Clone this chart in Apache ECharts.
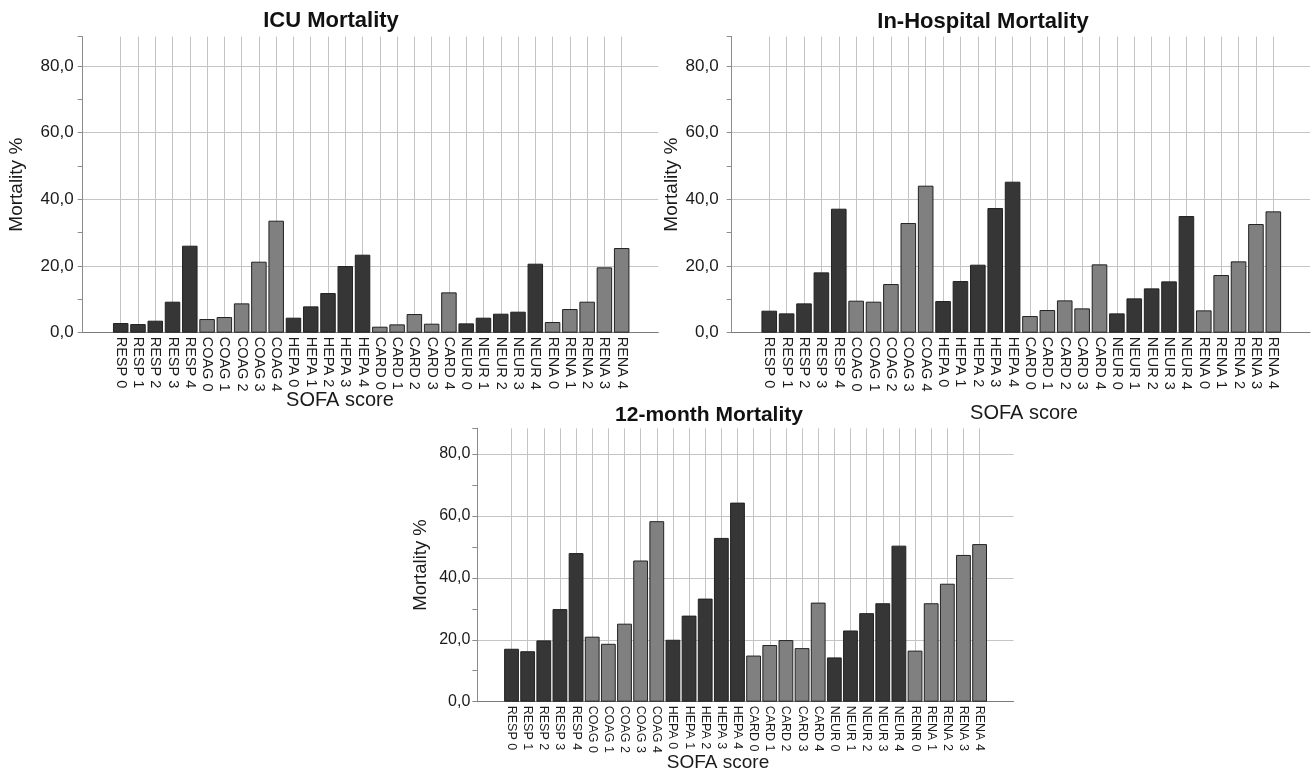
<!DOCTYPE html>
<html>
<head>
<meta charset="utf-8">
<script src="https://cdn.jsdelivr.net/npm/echarts@6/dist/echarts.min.js"></script>
<style>
html,body{margin:0;padding:0;background:#fff;}
#chart{width:1312px;height:773px;}
</style>
</head>
<body>
<div id="chart"></div>
<script>
// ---- data ----
const categories = ['RESP 0','RESP 1','RESP 2','RESP 3','RESP 4',
  'COAG 0','COAG 1','COAG 2','COAG 3','COAG 4',
  'HEPA 0','HEPA 1','HEPA 2','HEPA 3','HEPA 4',
  'CARD 0','CARD 1','CARD 2','CARD 3','CARD 4',
  'NEUR 0','NEUR 1','NEUR 2','NEUR 3','NEUR 4',
  'RENA 0','RENA 1','RENA 2','RENA 3','RENA 4'];
const categories12m = ['RESP 0','RESP 1','RESP 2','RESP 3','RESP 4',
  'COAG 0','COAG 1','COAG 2','COAG 3','COAG 4',
  'HEPA 0','HEPA 1','HEPA 2','HEPA 3','HEPA 4',
  'CARD 0','CARD 1','CARD 2','CARD 3','CARD 4',
  'NEUR 0','NEUR 1','NEUR 2','NEUR 3','NEUR 4',
  'RENR 0','RENA 1','RENA 2','RENA 3','RENA 4'];
const icuMortality = [2.9,2.6,3.6,9.3,26.1, 4.1,4.7,8.8,21.3,33.6, 4.5,7.9,11.9,20.0,23.4,
  1.8,2.5,5.6,2.7,12.1, 2.8,4.5,5.7,6.3,20.7, 3.2,7.1,9.3,19.6,25.4];
const hospitalMortality = [6.6,5.8,8.8,18.1,37.2, 9.6,9.3,14.6,32.9,44.1, 9.5,15.5,20.4,37.4,45.3,
  5.0,6.8,9.7,7.3,20.5, 5.8,10.3,13.3,15.4,35.0, 6.7,17.3,21.4,32.6,36.4];
const month12Mortality = [17.1,16.3,19.8,29.9,48.0, 21.0,18.7,25.2,45.6,58.3, 20.0,27.8,33.3,52.9,64.3,
  14.9,18.3,19.9,17.3,32.0, 14.3,23.0,28.6,31.8,50.4, 16.5,31.8,38.1,47.4,50.9];
const titles = ['ICU Mortality','In-Hospital Mortality','12-month Mortality'];
const xAxisTitle = 'SOFA score';
const yAxisTitle = 'Mortality %';

// ---- styling / layout ----
const FONT = "'Liberation Sans', Arial, sans-serif";
const DARK = '#363636', LIGHT = '#808080';
const panels = [
  {cats: categories, vals: icuMortality, grid:{left:82.7, top:36.7, width:575.6, height:296},
   xmin:-2.2, xmax:31.12, ymax:88.8, barW:15.5, labMargin:9, nameGap:56, tick:17, cat:14.5, nameSize:19,
   title:[331,21,22], sofa:[340,400,20]},
  {cats: categories, vals: hospitalMortality, grid:{left:731.7, top:36.7, width:578.3, height:296},
   xmin:-2.16, xmax:31.11, ymax:88.8, barW:15.6, labMargin:13, nameGap:50, tick:17, cat:14.5, nameSize:19,
   title:[983,22,22], sofa:[1024,413,20]},
  {cats: categories12m, vals: month12Mortality, grid:{left:477.3, top:428.3, width:536.2, height:273.4},
   xmin:-2.12, xmax:31.1, ymax:88.3, barW:14.8, labMargin:7, nameGap:47, tick:16, cat:12.5, nameSize:18.5,
   title:[709,415,21], sofa:[718,763,19]}
];

const grid = [], xAxis = [], yAxis = [], series = [], graphic = [];
panels.forEach((p, k) => {
  grid.push(Object.assign({containLabel:false}, p.grid));
  xAxis.push({
    type:'value', gridIndex:k, min:p.xmin, max:p.xmax,
    axisLine:{show:true, onZero:false, lineStyle:{color:'#7a7a7a', width:1}},
    axisTick:{show:false}, splitLine:{show:false},
    axisLabel:{customValues: p.cats.map((c,i)=>i), formatter: v => (p.cats[v] !== undefined ? p.cats[v] : ''),
      rotate:-90, margin:4, fontSize:p.cat, color:'#1a1a1a', fontFamily:FONT}
  });
  yAxis.push({
    type:'value', gridIndex:k, min:0, max:p.ymax, interval:20,
    name:yAxisTitle, nameLocation:'middle', nameRotate:90, nameGap:p.nameGap,
    nameTextStyle:{fontSize:p.nameSize, color:'#1a1a1a', fontFamily:FONT},
    axisLine:{show:true, onZero:false, lineStyle:{color:'#8c8c8c', width:1}},
    axisTick:{show:true, length:5, lineStyle:{color:'#8c8c8c'}},
    minorTick:{show:true, splitNumber:2, length:5, lineStyle:{color:'#8c8c8c'}},
    splitLine:{show:true, showMinLine:false, showMaxLine:false, lineStyle:{color:'#c4c4c4', width:1}},
    axisLabel:{margin:p.labMargin, fontSize:p.tick, color:'#1a1a1a', fontFamily:FONT, showMaxLabel:false,
      formatter: v => (Math.abs(v % 20) < 1e-6 ? v.toFixed(1).replace('.', ',') : '')}
  });
  series.push({
    type:'bar', xAxisIndex:k, yAxisIndex:k, barWidth:p.barW,
    data: p.vals.map((v,i)=>[i,v]),
    itemStyle:{borderColor:'#222', borderWidth:1,
      color: params => (Math.floor(params.dataIndex/5) % 2 === 0 ? DARK : LIGHT)},
    emphasis:{disabled:true},
    markLine:{silent:true, symbol:['none','none'], z:1, animation:false,
      label:{show:false}, lineStyle:{color:'#c4c4c4', width:1, type:'solid'},
      data: p.cats.map((c,i)=>({xAxis:i}))}
  });
  graphic.push({type:'text', x:p.title[0], y:p.title[1], silent:true,
    style:{text:titles[k], font:`bold ${p.title[2]}px ${FONT}`, fill:'#111', align:'center', verticalAlign:'middle'}});
  graphic.push({type:'text', x:p.sofa[0], y:p.sofa[1], silent:true,
    style:{text:xAxisTitle, font:`${p.sofa[2]}px ${FONT}`, fill:'#1a1a1a', align:'center', verticalAlign:'middle'}});
});

const chart = echarts.init(document.getElementById('chart'), null, {renderer:'canvas'});
chart.setOption({animation:false, backgroundColor:'#fff', grid, xAxis, yAxis, series, graphic});
</script>
</body>
</html>
